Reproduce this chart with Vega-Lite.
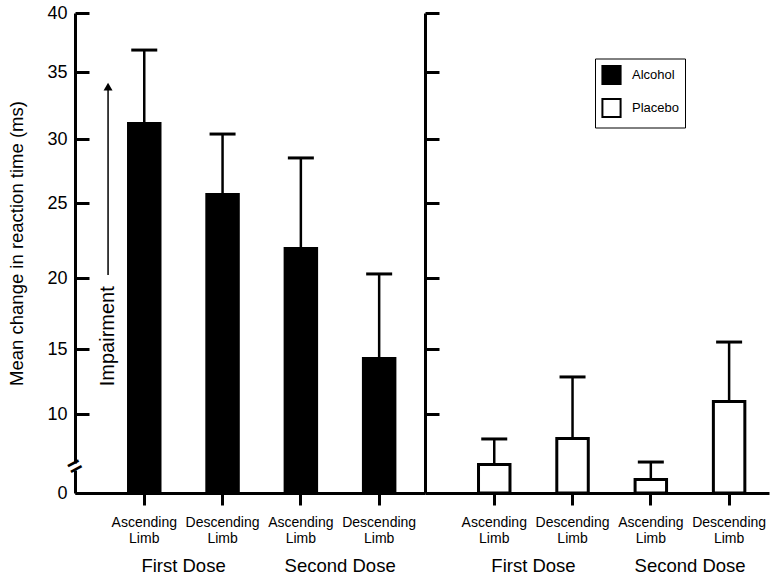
{
  "$schema": "https://vega.github.io/schema/vega-lite/v6.json",
  "padding": {"left": 7, "top": 4, "right": 10, "bottom": 5},
  "background": "white",
  "config": {
    "font": "Liberation Sans",
    "view": {"stroke": null},
    "axis": {"domainColor": "black", "domainWidth": 3, "tickColor": "black", "tickWidth": 3, "labelColor": "black", "titleColor": "black", "grid": false, "labelFont": "Liberation Sans", "titleFont": "Liberation Sans"},
    "legend": {"symbolType": "square", "symbolSize": 330, "symbolStrokeColor": "black", "symbolStrokeWidth": 2, "labelFontSize": 13, "labelFont": "Liberation Sans", "labelColor": "black", "labelOffset": 10, "rowPadding": 6, "padding": 6, "strokeColor": "black", "strokeWidth": 1, "fillColor": "white"}
  },
  "datasets": {
    "rt": [
      {"drink": "Alcohol", "dose": "First Dose", "limb": "Ascending Limb", "cond": "First Dose|Ascending Limb", "mean": 31.16, "upper": 36.86},
      {"drink": "Alcohol", "dose": "First Dose", "limb": "Descending Limb", "cond": "First Dose|Descending Limb", "mean": 25.66, "upper": 30.37},
      {"drink": "Alcohol", "dose": "Second Dose", "limb": "Ascending Limb", "cond": "Second Dose|Ascending Limb", "mean": 21.97, "upper": 28.52},
      {"drink": "Alcohol", "dose": "Second Dose", "limb": "Descending Limb", "cond": "Second Dose|Descending Limb", "mean": 14.27, "upper": 20.27},
      {"drink": "Placebo", "dose": "First Dose", "limb": "Ascending Limb", "cond": "First Dose|Ascending Limb", "mean": 3.61, "upper": 6.84},
      {"drink": "Placebo", "dose": "First Dose", "limb": "Descending Limb", "cond": "First Dose|Descending Limb", "mean": 6.9, "upper": 12.85},
      {"drink": "Placebo", "dose": "Second Dose", "limb": "Ascending Limb", "cond": "Second Dose|Ascending Limb", "mean": 1.71, "upper": 3.92},
      {"drink": "Placebo", "dose": "Second Dose", "limb": "Descending Limb", "cond": "Second Dose|Descending Limb", "mean": 10.96, "upper": 15.49}
    ]
  },
  "spacing": 0,
  "bounds": "flush",
  "hconcat": [
    {
      "width": 350,
      "height": 480,
      "data": {"name": "rt"},
      "transform": [{"filter": "datum.drink === 'Alcohol'"}],
      "layer": [
        {
          "mark": {"type": "bar", "stroke": "black", "strokeWidth": 3, "opacity": 1},
          "encoding": {
            "x": {"field": "cond", "type": "nominal", "sort": null,
              "scale": {"domain": ["First Dose|Ascending Limb", "First Dose|Descending Limb", "Second Dose|Ascending Limb", "Second Dose|Descending Limb"], "paddingInner": 0.598, "paddingOuter": 0.534, "align": 0.64},
              "axis": {"title": null, "labelAngle": 0, "tickSize": 12, "labelPadding": 10, "labelFontSize": 14, "labelLineHeight": 16, "labelExpr": "split(split(datum.value, '|')[1], ' ')"}},
            "y": {"field": "mean", "type": "quantitative",
              "scale": {"domain": [0, 10, 15, 20, 25, 30, 35, 40], "range": [480, 401, 336, 265, 190, 126, 59, 0], "nice": false, "zero": false},
              "axis": {"values": [0, 10, 15, 20, 25, 30, 35, 40], "tickSize": -14, "labelPadding": 22, "labelFontSize": 18, "title": "Mean change in reaction time (ms)", "titleFontSize": 18.5, "titleFontWeight": "normal", "titlePadding": 20.5, "titleY": 230}},
            "fill": {"field": "drink", "type": "nominal", "scale": {"domain": ["Alcohol", "Placebo"], "range": ["black", "white"]}, "legend": {"title": null, "orient": "none", "legendX": 520, "legendY": 45.5}}
          }
        },
        {
          "mark": {"type": "rule", "strokeWidth": 2.5, "color": "black"},
          "encoding": {
            "x": {"field": "cond", "type": "nominal", "sort": null},
            "y": {"field": "mean", "type": "quantitative", "scale": {"domain": [0, 10, 15, 20, 25, 30, 35, 40], "range": [480, 401, 336, 265, 190, 126, 59, 0], "nice": false, "zero": false}},
            "y2": {"field": "upper"}
          }
        },
        {
          "mark": {"type": "tick", "orient": "horizontal", "size": 26, "thickness": 3, "color": "black", "opacity": 1},
          "encoding": {
            "x": {"field": "cond", "type": "nominal", "sort": null},
            "y": {"field": "upper", "type": "quantitative", "scale": {"domain": [0, 10, 15, 20, 25, 30, 35, 40], "range": [480, 401, 336, 265, 190, 126, 59, 0], "nice": false, "zero": false}}
          }
        },
        {
          "transform": [{"filter": "datum.cond === 'First Dose|Ascending Limb'"}],
          "mark": {"type": "text", "angle": 270, "fontSize": 20, "baseline": "middle", "align": "center", "color": "black"},
          "encoding": {
            "x": {"field": "cond", "type": "nominal", "sort": null, "bandPosition": -0.65},
            "y": {"datum": 15.9, "type": "quantitative", "scale": {"domain": [0, 10, 15, 20, 25, 30, 35, 40], "range": [480, 401, 336, 265, 190, 126, 59, 0], "nice": false, "zero": false}},
            "text": {"value": "Impairment"}
          }
        },
        {
          "transform": [{"filter": "datum.cond === 'First Dose|Ascending Limb'"}],
          "mark": {"type": "rule", "strokeWidth": 1.5, "color": "black"},
          "encoding": {
            "x": {"field": "cond", "type": "nominal", "sort": null, "bandPosition": -0.65},
            "y": {"datum": 20.2, "type": "quantitative", "scale": {"domain": [0, 10, 15, 20, 25, 30, 35, 40], "range": [480, 401, 336, 265, 190, 126, 59, 0], "nice": false, "zero": false}},
            "y2": {"datum": 33.9}
          }
        },
        {
          "transform": [{"filter": "datum.cond === 'First Dose|Ascending Limb'"}],
          "mark": {"type": "point", "shape": "triangle-up", "size": 80, "filled": true, "color": "black", "opacity": 1},
          "encoding": {
            "x": {"field": "cond", "type": "nominal", "sort": null, "bandPosition": -0.65},
            "y": {"datum": 33.9, "type": "quantitative", "scale": {"domain": [0, 10, 15, 20, 25, 30, 35, 40], "range": [480, 401, 336, 265, 190, 126, 59, 0], "nice": false, "zero": false}}
          }
        },
        {
          "transform": [{"filter": "datum.cond === 'First Dose|Ascending Limb'"}],
          "mark": {"type": "point", "shape": "square", "size": 49, "filled": true, "color": "white", "opacity": 1},
          "encoding": {
            "x": {"field": "cond", "type": "nominal", "sort": null, "bandPosition": -1.698},
            "y": {"datum": 3.29, "type": "quantitative", "scale": {"domain": [0, 10, 15, 20, 25, 30, 35, 40], "range": [480, 401, 336, 265, 190, 126, 59, 0], "nice": false, "zero": false}}
          }
        },
        {
          "transform": [{"filter": "datum.cond === 'First Dose|Ascending Limb'"}],
          "mark": {"type": "text", "angle": -28, "fontSize": 24, "fontWeight": "bold", "baseline": "middle", "align": "center", "color": "black"},
          "encoding": {
            "x": {"field": "cond", "type": "nominal", "sort": null, "bandPosition": -1.698},
            "y": {"datum": 3.29, "type": "quantitative", "scale": {"domain": [0, 10, 15, 20, 25, 30, 35, 40], "range": [480, 401, 336, 265, 190, 126, 59, 0], "nice": false, "zero": false}},
            "text": {"value": "="}
          }
        },
        {
          "transform": [{"filter": "datum.limb === 'Descending Limb'"}],
          "mark": {"type": "text", "fontSize": 18.5, "baseline": "middle", "align": "center", "color": "black"},
          "encoding": {
            "x": {"field": "cond", "type": "nominal", "sort": null, "bandPosition": -0.74},
            "y": {"datum": -9.24, "type": "quantitative", "scale": {"domain": [0, 10, 15, 20, 25, 30, 35, 40], "range": [480, 401, 336, 265, 190, 126, 59, 0], "nice": false, "zero": false}},
            "text": {"field": "dose"}
          }
        }
      ]
    },
    {
      "width": 344,
      "height": 480,
      "data": {"name": "rt"},
      "transform": [{"filter": "datum.drink === 'Placebo'"}],
      "layer": [
        {
          "mark": {"type": "bar", "stroke": "black", "strokeWidth": 3, "opacity": 1},
          "encoding": {
            "x": {"field": "cond", "type": "nominal", "sort": null,
              "scale": {"domain": ["First Dose|Ascending Limb", "First Dose|Descending Limb", "Second Dose|Ascending Limb", "Second Dose|Descending Limb"], "paddingInner": 0.598, "paddingOuter": 0.496, "align": 0.689},
              "axis": {"title": null, "labelAngle": 0, "tickSize": 12, "labelPadding": 10, "labelFontSize": 14, "labelLineHeight": 16, "labelExpr": "split(split(datum.value, '|')[1], ' ')"}},
            "y": {"field": "mean", "type": "quantitative",
              "scale": {"domain": [0, 10, 15, 20, 25, 30, 35, 40], "range": [480, 401, 336, 265, 190, 126, 59, 0], "nice": false, "zero": false},
              "axis": {"values": [10, 15, 20, 25, 30, 35, 40], "tickSize": -14, "labels": false, "title": null}},
            "fill": {"field": "drink", "type": "nominal", "scale": {"domain": ["Alcohol", "Placebo"], "range": ["black", "white"]}, "legend": {"title": null, "orient": "none", "legendX": 520, "legendY": 45.5}}
          }
        },
        {
          "mark": {"type": "rule", "strokeWidth": 2.5, "color": "black"},
          "encoding": {
            "x": {"field": "cond", "type": "nominal", "sort": null},
            "y": {"field": "mean", "type": "quantitative", "scale": {"domain": [0, 10, 15, 20, 25, 30, 35, 40], "range": [480, 401, 336, 265, 190, 126, 59, 0], "nice": false, "zero": false}},
            "y2": {"field": "upper"}
          }
        },
        {
          "mark": {"type": "tick", "orient": "horizontal", "size": 26, "thickness": 3, "color": "black", "opacity": 1},
          "encoding": {
            "x": {"field": "cond", "type": "nominal", "sort": null},
            "y": {"field": "upper", "type": "quantitative", "scale": {"domain": [0, 10, 15, 20, 25, 30, 35, 40], "range": [480, 401, 336, 265, 190, 126, 59, 0], "nice": false, "zero": false}}
          }
        },
        {
          "transform": [{"filter": "datum.limb === 'Descending Limb'"}],
          "mark": {"type": "text", "fontSize": 18.5, "baseline": "middle", "align": "center", "color": "black"},
          "encoding": {
            "x": {"field": "cond", "type": "nominal", "sort": null, "bandPosition": -0.74},
            "y": {"datum": -9.24, "type": "quantitative", "scale": {"domain": [0, 10, 15, 20, 25, 30, 35, 40], "range": [480, 401, 336, 265, 190, 126, 59, 0], "nice": false, "zero": false}},
            "text": {"field": "dose"}
          }
        }
      ]
    }
  ]
}
